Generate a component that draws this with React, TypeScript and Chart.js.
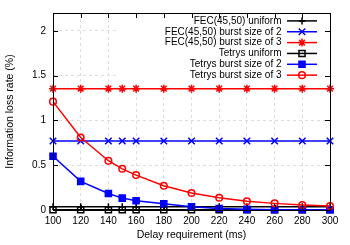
import React, { useEffect, useRef } from "react";
import { Chart, registerables } from "chart.js";
import { drawPoint } from "chart.js/helpers";

Chart.register(...registerables);

const delays = [100, 120, 140, 150, 160, 180, 200, 220, 240, 260, 280, 300];
const fecUniform = [0.035, 0.035, 0.035, 0.035, 0.035, 0.035, 0.035, 0.035, 0.035, 0.035, 0.035, 0.035];
const fecBurst2 = [0.77, 0.77, 0.77, 0.77, 0.77, 0.77, 0.77, 0.77, 0.77, 0.77, 0.77, 0.77];
const fecBurst3 = [1.355, 1.355, 1.355, 1.355, 1.355, 1.355, 1.355, 1.355, 1.355, 1.355, 1.355, 1.355];
const tetrysUniform = [0.003, 0.003, 0.003, 0.003, 0.003, 0.003, 0.003, 0.003, 0.003, 0.003, 0.003, 0.003];
const tetrysBurst2 = [0.6, 0.32, 0.185, 0.133, 0.103, 0.07, 0.035, 0.016, 0.007, 0.004, 0.003, 0.003];
const tetrysBurst3 = [1.21, 0.81, 0.55, 0.46, 0.39, 0.27, 0.19, 0.137, 0.097, 0.074, 0.056, 0.044];

const seriesLabels = [
  "FEC(45,50) uniform",
  "FEC(45,50) burst size of 2",
  "FEC(45,50) burst size of 3",
  "Tetrys uniform",
  "Tetrys burst size of 2",
  "Tetrys burst size of 3",
];
const seriesValues = [fecUniform, fecBurst2, fecBurst3, tetrysUniform, tetrysBurst2, tetrysBurst3];

const xTickValues = [100, 120, 140, 160, 180, 200, 220, 240, 260, 280, 300];
const yTickValues = [0, 0.5, 1, 1.5, 2];

const xTitle = "Delay requirement (ms)";
const yTitle = "Information loss rate (%)";

const seriesStyles = [
  { color: "#000000", pointStyle: "cross", radius: 3.5, fill: "rgba(0,0,0,0)" },
  { color: "#0000ff", pointStyle: "crossRot", radius: 4.6, fill: "rgba(0,0,0,0)" },
  { color: "#ff0000", pointStyle: "star", radius: 4, fill: "rgba(0,0,0,0)" },
  { color: "#000000", pointStyle: "rect", radius: 4.3, fill: "rgba(0,0,0,0)" },
  { color: "#0000ff", pointStyle: "rect", radius: 4.3, fill: "#0000ff" },
  { color: "#ff0000", pointStyle: "circle", radius: 3.3, fill: "rgba(0,0,0,0)" },
];

const FONT = "'Liberation Sans', Arial, Helvetica, sans-serif";

const legendBoxPlugin = {
  id: "legendBox",
  beforeDatasetsDraw(chart: any) {
    const { ctx, chartArea } = chart;
    ctx.save();
    ctx.fillStyle = "#ffffff";
    ctx.fillRect(117, chartArea.top + 0.5, chartArea.right - 117, 82 - chartArea.top);
    ctx.restore();
  },
  afterDraw(chart: any) {
    const { ctx, chartArea, scales } = chart;
    ctx.save();
    ctx.font = `10px ${FONT}`;
    ctx.textAlign = "right";
    ctx.textBaseline = "middle";
    seriesLabels.forEach((label, i) => {
      const y = 20.9 + i * 10.85;
      const st = seriesStyles[i];
      ctx.fillStyle = "#000";
      ctx.fillText(label, 281.5, y);
      ctx.strokeStyle = st.color;
      ctx.lineWidth = 1.5;
      ctx.beginPath();
      ctx.moveTo(287, y);
      ctx.lineTo(317, y);
      ctx.stroke();
      ctx.fillStyle = st.fill;
      ctx.strokeStyle = st.color;
      ctx.lineWidth = 1.5;
      drawPoint(ctx, { pointStyle: st.pointStyle, radius: st.radius, rotation: 0, borderWidth: 1.5 }, 302, y);
    });
    const { left, right, top, bottom } = chartArea;
    ctx.strokeStyle = "#000";
    ctx.lineWidth = 1;
    ctx.strokeRect(Math.round(left) + 0.5, Math.round(top) + 0.5, Math.round(right - left), Math.round(bottom - top));
    const tl = 5;
    ctx.beginPath();
    xTickValues.forEach((v) => {
      const x = Math.round(scales.x.getPixelForValue(v)) + 0.5;
      ctx.moveTo(x, bottom);
      ctx.lineTo(x, bottom - tl);
      ctx.moveTo(x, top);
      ctx.lineTo(x, top + tl);
    });
    yTickValues.forEach((v) => {
      const y = Math.round(scales.y.getPixelForValue(v)) + 0.5;
      ctx.moveTo(left, y);
      ctx.lineTo(left + tl, y);
      ctx.moveTo(right, y);
      ctx.lineTo(right - tl, y);
    });
    ctx.stroke();
    ctx.restore();
  },
};

export default function App() {
  const ref = useRef<HTMLCanvasElement | null>(null);
  useEffect(() => {
    if (!ref.current) return;
    const chart = new Chart(ref.current, {
      type: "line",
      data: {
        datasets: seriesValues.map((vals, i) => ({
          label: seriesLabels[i],
          data: delays.map((d, j) => ({ x: d, y: vals[j] })),
          borderColor: seriesStyles[i].color,
          backgroundColor: seriesStyles[i].fill,
          pointBorderColor: seriesStyles[i].color,
          pointBackgroundColor: seriesStyles[i].fill,
          pointStyle: seriesStyles[i].pointStyle as any,
          pointRadius: seriesStyles[i].radius,
          pointBorderWidth: 1.5,
          borderWidth: 1.5,
          tension: 0,
          clip: false as any,
          order: 5 - i,
        })),
      },
      options: {
        responsive: false,
        animation: false,
        devicePixelRatio: 1,
        layout: { padding: { left: 0, right: 20, top: 13, bottom: 0 } },
        plugins: { legend: { display: false }, tooltip: { enabled: false } },
        scales: {
          x: {
            type: "linear",
            min: 100,
            max: 300,
            afterBuildTicks: (s: any) => {
              s.ticks = xTickValues.map((v) => ({ value: v }));
            },
            afterFit: (s: any) => {
              s.height = 35;
            },
            ticks: {
              color: "#000",
              font: { family: FONT, size: 10 },
              padding: 5,
              maxRotation: 0,
              autoSkip: false,
              callback: (v: any) => String(v),
            },
            grid: { color: "#dddddd", drawTicks: false, lineWidth: 1 },
            border: { display: false, dash: [3, 3] },
            title: {
              display: true,
              text: xTitle,
              color: "#000",
              font: { family: FONT, size: 10.5 },
              padding: { top: 0, bottom: 4 },
            },
          },
          y: {
            type: "linear",
            min: 0,
            max: 2.2,
            afterBuildTicks: (s: any) => {
              s.ticks = yTickValues.map((v) => ({ value: v }));
            },
            afterFit: (s: any) => {
              s.width = 53;
            },
            ticks: {
              color: "#000",
              font: { family: FONT, size: 10 },
              padding: 7,
              callback: (v: any) => String(v),
            },
            grid: { color: "#dddddd", drawTicks: false, lineWidth: 1 },
            border: { display: false, dash: [3, 3] },
            title: {
              display: true,
              text: yTitle,
              color: "#000",
              font: { family: FONT, size: 10.5 },
              padding: { top: 3.5, bottom: 0 },
            },
          },
        },
      },
      plugins: [legendBoxPlugin],
    });
    return () => chart.destroy();
  }, []);
  return (
    <div style={{ position: "absolute", left: 0, top: 0, width: 350, height: 245, background: "#fff" }}>
      <canvas ref={ref} width={350} height={245} style={{ display: "block" }} />
    </div>
  );
}
